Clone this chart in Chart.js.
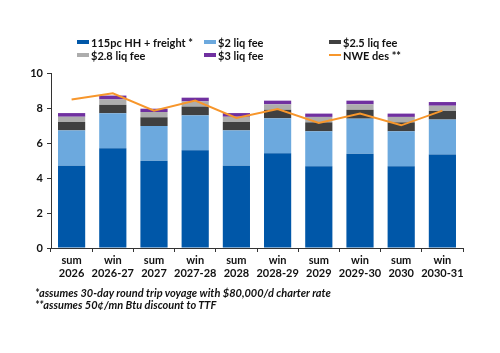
<!DOCTYPE html>
<html>
<head>
<meta charset="utf-8">
<script src="https://cdn.jsdelivr.net/npm/chart.js@4.4.0/dist/chart.umd.min.js"></script>
<style>
  body { margin: 0; background: #fff; font-family: Lato, "DejaVu Sans", sans-serif; }
  #wrap { position: relative; width: 500px; height: 353px; }
  #chart { position: absolute; left: 0; top: 0; }
  .lg { position: absolute; font-size: 11px; font-weight: bold; color: #111; line-height: 13px; white-space: nowrap; }
  .lg i { display: inline-block; width: 12px; height: 4px; margin-right: 2px; vertical-align: 3px; }
  .lg i.ln { height: 2px; vertical-align: 4px; }
  .note { position: absolute; left: 35px; font-size: 11px; font-style: italic; font-weight: bold; color: #111; white-space: nowrap; }
</style>
</head>
<body>
<div id="wrap">
  <canvas id="chart" width="500" height="353"></canvas>
  <div id="legend"></div>
  <div class="note" style="top:286px">*assumes 30-day round trip voyage with $80,000/d charter rate</div>
  <div class="note" style="top:298px">**assumes 50¢/mn Btu discount to TTF</div>
</div>
<script>
// categories (two-line labels)
var categories = [
    ['sum', '2026'], ['win', '2026-27'], ['sum', '2027'], ['win', '2027-28'], ['sum', '2028'],
    ['win', '2028-29'], ['sum', '2029'], ['win', '2029-30'], ['sum', '2030'], ['win', '2030-31']
];

// stacked pieces
var hhFreight = [4.70, 5.70, 4.99, 5.58, 4.70, 5.41, 4.67, 5.39, 4.67, 5.34];
var liq2 = [2.02, 2.00, 1.98, 2.00, 2.02, 2.00, 2.00, 2.00, 2.00, 2.00];
var liq25 = [0.48, 0.48, 0.50, 0.50, 0.48, 0.49, 0.51, 0.51, 0.51, 0.49];
var liq28 = [0.30, 0.31, 0.30, 0.30, 0.30, 0.31, 0.31, 0.31, 0.31, 0.30];
var liq3 = [0.21, 0.22, 0.19, 0.21, 0.21, 0.21, 0.19, 0.21, 0.19, 0.21];

// NWE des line
var nweDes = [8.48, 8.84, 7.85, 8.42, 7.43, 7.94, 7.14, 7.68, 7.01, 7.85];

var yTicks = [0, 2, 4, 6, 8, 10];

var colors = {
    hh: '#0057A8',
    liq2: '#6CA9DE',
    liq25: '#404040',
    liq28: '#ADADAD',
    liq3: '#7030A0',
    nwe: '#F7962B'
};

var legendItems = [
    { text: '115pc HH + freight *', color: colors.hh, x: 77, y: 36 },
    { text: '$2 liq fee', color: colors.liq2, x: 204, y: 36 },
    { text: '$2.5 liq fee', color: colors.liq25, x: 329, y: 36 },
    { text: '$2.8 liq fee', color: colors.liq28, x: 77, y: 49 },
    { text: '$3 liq fee', color: colors.liq3, x: 204, y: 49 },
    { text: 'NWE des **', color: colors.nwe, x: 329, y: 49, line: true }
];

var lg = document.getElementById('legend');
legendItems.forEach(function(it) {
    var d = document.createElement('div');
    d.className = 'lg';
    d.style.left = it.x + 'px';
    d.style.top = it.y + 'px';
    d.innerHTML = '<i class="' + (it.line ? 'ln' : '') + '" style="background:' + it.color + '"></i>' + it.text;
    lg.appendChild(d);
});

function barSet(label, data, color) {
    return {
        type: 'bar',
        label: label,
        data: data,
        backgroundColor: color,
        borderWidth: 0,
        stack: 's',
        barPercentage: 0.66,
        categoryPercentage: 1.0,
        order: 2
    };
}

var fontSpec = { family: 'Lato', size: 11, weight: 'bold' };

new Chart(document.getElementById('chart').getContext('2d'), {
    type: 'bar',
    data: {
        labels: categories,
        datasets: [
            {
                type: 'line',
                label: 'NWE des **',
                data: nweDes,
                borderColor: colors.nwe,
                borderWidth: 2,
                pointRadius: 0,
                tension: 0,
                fill: false,
                order: 1
            },
            barSet('115pc HH + freight *', hhFreight, colors.hh),
            barSet('$2 liq fee', liq2, colors.liq2),
            barSet('$2.5 liq fee', liq25, colors.liq25),
            barSet('$2.8 liq fee', liq28, colors.liq28),
            barSet('$3 liq fee', liq3, colors.liq3)
        ]
    },
    options: {
        responsive: false,
        animation: false,
        layout: { padding: { left: 0, top: 73, right: 37, bottom: 0 } },
        plugins: {
            legend: { display: false },
            tooltip: { enabled: false }
        },
        scales: {
            x: {
                stacked: true,
                offset: true,
                grid: {
                    display: true,
                    offset: true,
                    drawOnChartArea: false,
                    drawTicks: true,
                    tickLength: 4,
                    color: '#333'
                },
                border: { color: '#333', width: 1 },
                ticks: { color: '#111', font: fontSpec, padding: 2, maxRotation: 0, autoSkip: false },
                afterFit: function(scale) { scale.height = 105; }
            },
            y: {
                stacked: true,
                min: 0,
                max: 10,
                afterBuildTicks: function(scale) {
                    scale.ticks = yTicks.map(function(v) { return { value: v }; });
                },
                grid: {
                    display: true,
                    drawOnChartArea: false,
                    drawTicks: true,
                    tickLength: 4,
                    color: '#333'
                },
                border: { color: '#333', width: 1 },
                ticks: { color: '#111', font: fontSpec, padding: 4 },
                afterFit: function(scale) { scale.width = 51; }
            }
        }
    }
});
</script>
</body>
</html>
